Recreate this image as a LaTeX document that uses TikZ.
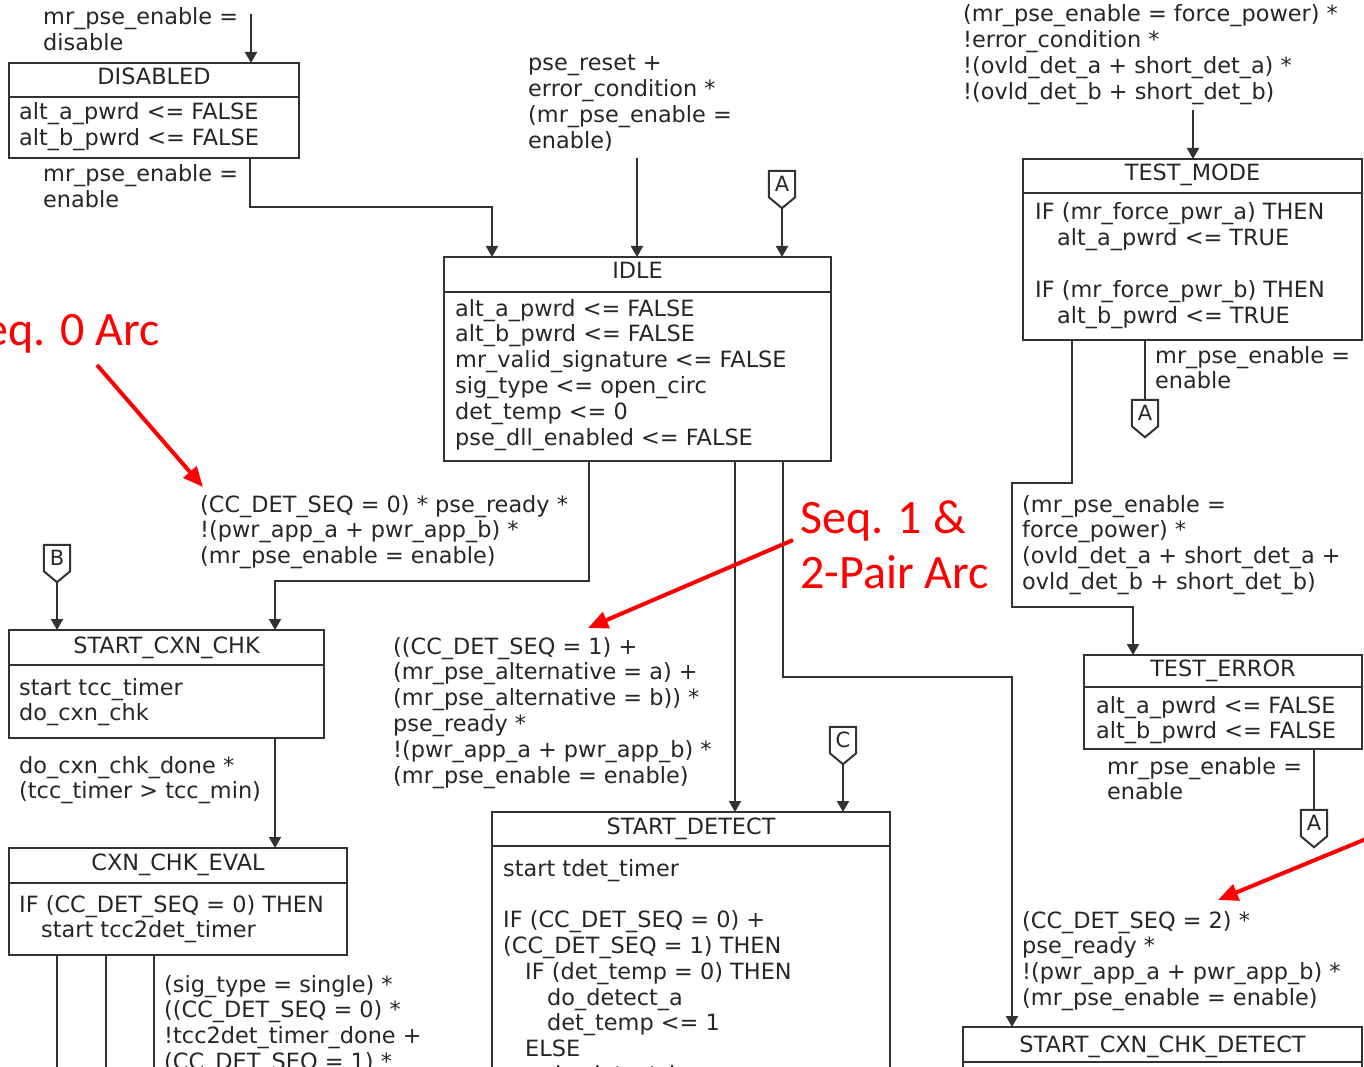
\documentclass[tikz,border=0pt]{standalone}
\usepackage{fontspec}
\setmainfont{DejaVu Sans}
\newfontfamily\calloutfont{Carlito}
\usetikzlibrary{arrows.meta,calc}

\definecolor{ink}{RGB}{38,38,38}
\definecolor{wire}{RGB}{50,50,50}
\definecolor{callred}{RGB}{255,0,0}

% font sizes (1pt = one unit of the drawing grid)
\newcommand\fsz{\fontsize{22.4}{25.8}\selectfont}
\newcommand\csz{\fontsize{21}{22}\selectfont}
\newcommand\bigsz{\calloutfont\fontsize{48}{55}\selectfont}
% multi-line label whose baseline is the baseline of its first line
\newcommand\mlines[1]{\begin{tabular}[t]{@{}l@{}}#1\end{tabular}}
\newcommand\ind{\hspace*{22pt}}
% rule under the state name
\newcommand\headrule[2]{\draw[wireline] ([yshift=-#2pt]#1.north west) -- ([yshift=-#2pt]#1.north east);}
% off-page connector: name, letter, centre x, top y
\newcommand\offpage[4]{%
  \node[offpg] (#1) at (#3,#4+13) {#2};
  \draw[wireline] (#1.north west) -- (#1.north east) -- (#1.south east)
    -- ([yshift=-11pt]#1.south) coordinate (#1-tip) -- (#1.south west) -- cycle;}

\tikzset{
  lbl/.style={anchor=base west, inner sep=0pt, text=ink, font=\fsz},
  hdr/.style={anchor=base, inner sep=0pt, text=ink, font=\fsz},
  statebox/.style={draw=wire, line width=2pt, anchor=north west, inner sep=0pt, outer sep=0pt},
  wireline/.style={draw=wire, line width=2pt},
  flow/.style={wireline, -{Triangle[width=12pt,length=11pt]}},
  offpg/.style={minimum width=26pt, minimum height=26pt, inner sep=0pt, text=ink, font=\csz},
  callarrow/.style={draw=callred, line width=4pt, -{Triangle[width=17pt,length=20pt]}},
  calltext/.style={text=callred, font=\bigsz, inner sep=0pt},
}

\begin{document}
\begin{tikzpicture}[x=1pt,y=-1pt]
\useasboundingbox (0,0) rectangle (1364,1067);
\clip (0,0) rectangle (1364,1067);

% ---------------- states ----------------
\node[statebox, minimum width=290pt, minimum height=95pt] (disabled) at (9,63) {};
\headrule{disabled}{34}
\node[hdr] (disabled-h) at ([yshift=-22pt]disabled.north) {DISABLED};
\node[lbl] (disabled-b) at (19,120) {\mlines{alt\_a\_pwrd <= FALSE\\alt\_b\_pwrd <= FALSE}};

\node[statebox, minimum width=387pt, minimum height=204pt] (idle) at (444,257) {};
\headrule{idle}{35}
\node[hdr] (idle-h) at ([yshift=-21pt]idle.north) {IDLE};
\node[lbl] (idle-b) at (455,316) {\mlines{alt\_a\_pwrd <= FALSE\\alt\_b\_pwrd <= FALSE\\mr\_valid\_signature <= FALSE\\sig\_type <= open\_circ\\det\_temp <= 0\\pse\_dll\_enabled <= FALSE}};

\node[statebox, minimum width=315pt, minimum height=108pt] (scc) at (9,630) {};
\headrule{scc}{35}
\node[hdr] (scc-h) at ([yshift=-23pt]scc.north) {START\_CXN\_CHK};
\node[lbl] (scc-b) at (19,695) {\mlines{start tcc\_timer\\do\_cxn\_chk}};

\node[statebox, minimum width=338pt, minimum height=107pt] (cce) at (9,848) {};
\headrule{cce}{35}
\node[hdr] (cce-h) at ([yshift=-22pt]cce.north) {CXN\_CHK\_EVAL};
\node[lbl] (cce-b) at (19,912) {\mlines{IF (CC\_DET\_SEQ = 0) THEN\\\ind start tcc2det\_timer}};

\node[statebox, minimum width=398pt, minimum height=300pt] (sd) at (492,812) {};
\headrule{sd}{34}
\node[hdr] (sd-h) at ([yshift=-22pt]sd.north) {START\_DETECT};
\node[lbl] (sd-b) at (503,876) {\mlines{start tdet\_timer\\ \\IF (CC\_DET\_SEQ = 0) +\\(CC\_DET\_SEQ = 1) THEN\\\ind IF (det\_temp = 0) THEN\\\ind\ind do\_detect\_a\\\ind\ind det\_temp <= 1\\\ind ELSE\\\ind\ind do\_detect\_b}};

\node[statebox, minimum width=339pt, minimum height=181pt] (tm) at (1023,159) {};
\headrule{tm}{34}
\node[hdr] (tm-h) at ([yshift=-22pt]tm.north) {TEST\_MODE};
\node[lbl] (tm-b) at (1035,220) {\mlines{IF (mr\_force\_pwr\_a) THEN\\\ind alt\_a\_pwrd <= TRUE\\ \\IF (mr\_force\_pwr\_b) THEN\\\ind alt\_b\_pwrd <= TRUE}};

\node[statebox, minimum width=278pt, minimum height=94pt] (te) at (1084,655) {};
\headrule{te}{32}
\node[hdr] (te-h) at ([yshift=-21pt]te.north) {TEST\_ERROR};
\node[lbl] (te-b) at (1096,713) {\mlines{alt\_a\_pwrd <= FALSE\\alt\_b\_pwrd <= FALSE}};

\node[statebox, minimum width=399pt, minimum height=120pt] (sccd) at (963,1027) {};
\headrule{sccd}{35}
\node[hdr] (sccd-h) at ([yshift=-25pt]sccd.north) {START\_CXN\_CHK\_DETECT};

% ---------------- off-page connectors ----------------
\offpage{pA1}{A}{782}{171}
\offpage{pB}{B}{57}{545}
\offpage{pC}{C}{843}{727}
\offpage{pA2}{A}{1145}{400}
\offpage{pA3}{A}{1314}{810}

% ---------------- transitions ----------------
\coordinate (dis-in) at (251,14);
\draw[flow] (dis-in) -- (dis-in |- disabled.north);
\node[lbl] (l-dis-in) at (43,25) {\mlines{mr\_pse\_enable =\\disable}};

\coordinate (j1a) at (250,207);
\coordinate (j1b) at (492,207);
\draw[flow] (disabled.south -| j1a) -- (j1a) -- (j1b) -- (idle.north -| j1b);
\node[lbl] (l-dis-out) at (43,182) {\mlines{mr\_pse\_enable =\\enable}};

\coordinate (rst-in) at (637,158);
\draw[flow] (rst-in) -- (idle.north -| rst-in);
\node[lbl] (l-rst) at (528,71) {\mlines{pse\_reset +\\error\_condition *\\(mr\_pse\_enable =\\enable)}};

\draw[flow] (pA1-tip) -- (idle.north -| pA1-tip);

\coordinate (j2a) at (589,581);
\coordinate (j2b) at (275,581);
\draw[flow] (idle.south -| j2a) -- (j2a) -- (j2b) -- (scc.north -| j2b);
\node[lbl] (l-seq0) at (200,512) {\mlines{(CC\_DET\_SEQ = 0) * pse\_ready *\\!(pwr\_app\_a + pwr\_app\_b) *\\(mr\_pse\_enable = enable)}};

\draw[flow] (pB-tip) -- (scc.north -| pB-tip);

\draw[flow] (scc.south -| j2b) -- (cce.north -| j2b);
\node[lbl] (l-cxn) at (19,773) {\mlines{do\_cxn\_chk\_done *\\(tcc\_timer > tcc\_min)}};

\coordinate (x1) at (57,1090);
\coordinate (x2) at (106,1090);
\coordinate (x3) at (154,1090);
\draw[wireline] (cce.south -| x1) -- (x1);
\draw[wireline] (cce.south -| x2) -- (x2);
\draw[wireline] (cce.south -| x3) -- (x3);
\node[lbl] (l-sig) at (164,992) {\mlines{(sig\_type = single) *\\((CC\_DET\_SEQ = 0) *\\!tcc2det\_timer\_done +\\(CC\_DET\_SEQ = 1) *}};

\coordinate (j4) at (735,700);
\draw[flow] (idle.south -| j4) -- (sd.north -| j4);
\node[lbl] (l-seq1) at (393,654) {\mlines{((CC\_DET\_SEQ = 1) +\\(mr\_pse\_alternative = a) +\\(mr\_pse\_alternative = b)) *\\pse\_ready *\\!(pwr\_app\_a + pwr\_app\_b) *\\(mr\_pse\_enable = enable)}};

\draw[flow] (pC-tip) -- (sd.north -| pC-tip);

\coordinate (j5a) at (783,677);
\coordinate (j5b) at (1012,677);
\draw[flow] (idle.south -| j5a) -- (j5a) -- (j5b) -- (sccd.north -| j5b);

\coordinate (tm-in) at (1193,110);
\draw[flow] (tm-in) -- (tm-in |- tm.north);
\node[lbl] (l-tm-in) at (963,22) {\mlines{(mr\_pse\_enable = force\_power) *\\!error\_condition *\\!(ovld\_det\_a + short\_det\_a) *\\!(ovld\_det\_b + short\_det\_b)}};

\draw[wireline] (tm.south -| pA2) -- (pA2.north);
\node[lbl] (l-tm-a) at (1155,363) {\mlines{mr\_pse\_enable =\\enable}};

\coordinate (j6a) at (1072,483);
\coordinate (j6b) at (1012,483);
\coordinate (j6c) at (1012,607);
\coordinate (j6d) at (1133,607);
\draw[flow] (tm.south -| j6a) -- (j6a) -- (j6b) -- (j6c) -- (j6d) -- (te.north -| j6d);
\node[lbl] (l-tm-err) at (1022,512) {\mlines{(mr\_pse\_enable =\\force\_power) *\\(ovld\_det\_a + short\_det\_a +\\ovld\_det\_b + short\_det\_b)}};

\draw[wireline] (te.south -| pA3) -- (pA3.north);
\node[lbl] (l-te-a) at (1107,774) {\mlines{mr\_pse\_enable =\\enable}};

\node[lbl] (l-seq2) at (1022,928) {\mlines{(CC\_DET\_SEQ = 2) *\\pse\_ready *\\!(pwr\_app\_a + pwr\_app\_b) *\\(mr\_pse\_enable = enable)}};

% ---------------- red call-outs ----------------
\node[calltext, anchor=base east] (n-seq0) at (160,345) {Seq. 0 Arc};
\coordinate (c0a) at (97,365);
\coordinate (c0b) at (203,487);
\draw[callarrow] (c0a) -- (c0b);

\node[calltext, anchor=base west] (n-seq1) at (800,533) {\mlines{Seq. 1 \&\\2-Pair Arc}};
\coordinate (c1a) at (793,540);
\coordinate (c1b) at (588,628);
\draw[callarrow] (c1a) -- (c1b);

\coordinate (c2a) at (1378,834);
\coordinate (c2b) at (1218,900);
\draw[callarrow] (c2a) -- (c2b);
\end{tikzpicture}
\end{document}
